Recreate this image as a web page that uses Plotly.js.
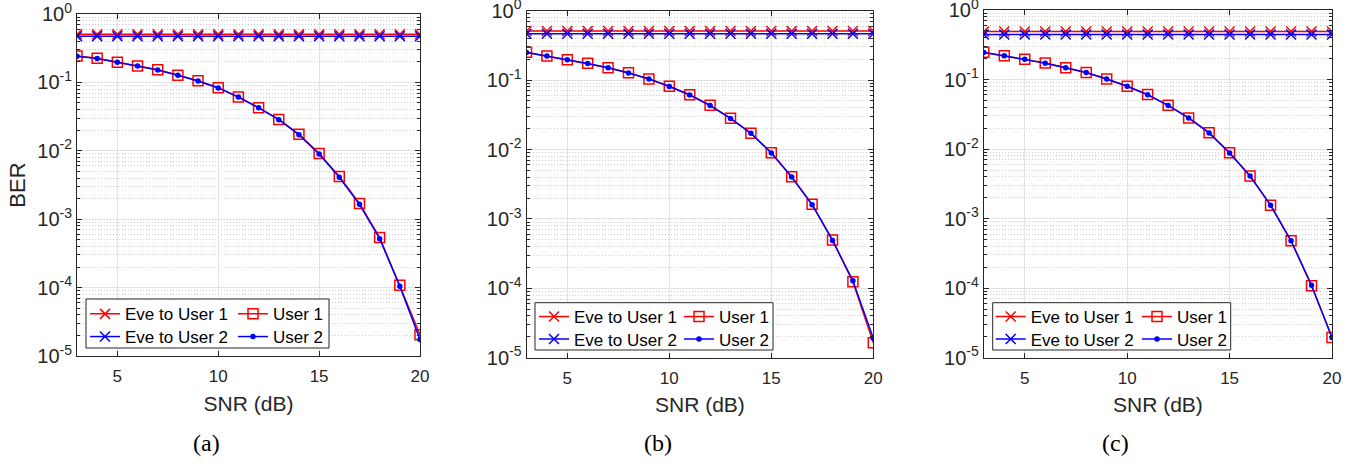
<!DOCTYPE html>
<html>
<head>
<meta charset="utf-8">
<script src="https://cdn.plot.ly/plotly-3.0.1.min.js"></script>
<style>html,body{margin:0;padding:0;background:#fff;}#chart{width:1362px;height:464px;}</style>
</head>
<body>
<div id="chart"></div>
<script>
// ---------- data ----------
const snr = [3, 4, 5, 6, 7, 8, 9, 10, 11, 12, 13, 14, 15, 16, 17, 18, 19, 20];

const seriesNames = ["Eve to User 1", "User 1", "Eve to User 2", "User 2"];
const panelLabels = ["(a)", "(b)", "(c)"];
const xTickVals = [5, 10, 15, 20];
const yTickVals = [1e-5, 1e-4, 1e-3, 1e-2, 1e-1, 1];
const yTickText = ["10<sup>-5</sup>", "10<sup>-4</sup>", "10<sup>-3</sup>", "10<sup>-2</sup>", "10<sup>-1</sup>", "10<sup>0</sup>"];

// panel (a)
const a_eve1  = [0.505, 0.505, 0.505, 0.505, 0.505, 0.505, 0.505, 0.505, 0.505, 0.505, 0.505, 0.505, 0.505, 0.505, 0.505, 0.505, 0.505, 0.505];
const a_user1 = [0.243, 0.225, 0.197, 0.174, 0.153, 0.127, 0.106, 0.0837, 0.0612, 0.0427, 0.0288, 0.0174, 0.0091, 0.0042, 0.0017, 0.00054, 0.000108, 2.05e-5];
const a_eve2  = [0.472, 0.472, 0.472, 0.472, 0.472, 0.472, 0.472, 0.472, 0.472, 0.472, 0.472, 0.472, 0.472, 0.472, 0.472, 0.472, 0.472, 0.472];
const a_user2 = [0.242, 0.224, 0.197, 0.173, 0.152, 0.127, 0.105, 0.083, 0.061, 0.0425, 0.0285, 0.0172, 0.0090, 0.0041, 0.00165, 0.00052, 0.000105, 1.75e-5];

// panel (b)
const b_eve1  = [0.51, 0.51, 0.51, 0.51, 0.51, 0.51, 0.51, 0.51, 0.51, 0.51, 0.51, 0.51, 0.51, 0.51, 0.51, 0.51, 0.51, 0.51];
const b_user1 = [0.251, 0.222, 0.197, 0.175, 0.151, 0.128, 0.104, 0.0814, 0.0616, 0.0434, 0.0282, 0.0172, 0.0090, 0.00405, 0.00162, 0.000497, 0.000124, 1.64e-5];
const b_eve2  = [0.466, 0.466, 0.466, 0.466, 0.466, 0.466, 0.466, 0.466, 0.466, 0.466, 0.466, 0.466, 0.466, 0.466, 0.466, 0.466, 0.466, 0.466];
const b_user2 = [0.250, 0.222, 0.197, 0.174, 0.151, 0.127, 0.104, 0.081, 0.061, 0.043, 0.028, 0.0171, 0.0089, 0.0040, 0.0016, 0.00049, 0.000128, 1.9e-5];

// panel (c)
const c_eve1  = [0.49, 0.49, 0.49, 0.49, 0.49, 0.49, 0.49, 0.49, 0.49, 0.49, 0.49, 0.49, 0.49, 0.49, 0.49, 0.49, 0.49, 0.49];
const c_user1 = [0.246, 0.220, 0.195, 0.173, 0.148, 0.126, 0.102, 0.080, 0.0607, 0.0426, 0.028, 0.0172, 0.00885, 0.00409, 0.00156, 0.00048, 0.000108, 1.95e-5];
const c_eve2  = [0.445, 0.445, 0.445, 0.445, 0.445, 0.445, 0.445, 0.445, 0.445, 0.445, 0.445, 0.445, 0.445, 0.445, 0.445, 0.445, 0.445, 0.445];
const c_user2 = [0.245, 0.220, 0.195, 0.172, 0.148, 0.126, 0.102, 0.080, 0.0605, 0.0425, 0.028, 0.0171, 0.0088, 0.0041, 0.00156, 0.00048, 0.00011, 1.95e-5];

// ---------- layout helpers ----------
const W = 1362, H = 464;
const px = v => v / W;
const py = v => 1 - v / H;

const panels = [
  {data: [a_eve1, a_user1, a_eve2, a_user2], x0: 77, x1: 420, y0: 14, y1: 356,
   box: [86, 299, 329, 348], legX: [85, 233], legY: [313.3, 336], ytitle: "BER"},
  {data: [b_eve1, b_user1, b_eve2, b_user2], x0: 526.5, x1: 873.3, y0: 10.7, y1: 357.7,
   box: [535, 302.7, 773, 350], legX: [534, 679], legY: [316, 338.5], ytitle: ""},
  {data: [c_eve1, c_user1, c_eve2, c_user2], x0: 983.8, x1: 1332, y0: 10, y1: 357.7,
   box: [992.7, 302.7, 1230.7, 350], legX: [990.7, 1137], legY: [316, 338.5], ytitle: ""}
];

const RED = "#ff0000", BLUE = "#0000ff", AX = "#262626";
const FONT = "Liberation Sans, Arial, sans-serif";
const styles = [
  {color: RED,  symbol: "x-thin-open", size: 10, lw: 1.5},
  {color: RED,  symbol: "square-open", size: 10, lw: 1.5},
  {color: BLUE, symbol: "x-thin-open", size: 10, lw: 1.5},
  {color: BLUE, symbol: "circle", size: 4, lw: 1.5}
];

const minorVals = [];
for (let e = -5; e < 0; e++) for (let m = 2; m <= 9; m++) minorVals.push(m * Math.pow(10, e));

const traces = [];
const layout = {
  width: W, height: H,
  margin: {l: 0, r: 0, t: 0, b: 0},
  paper_bgcolor: "#fff", plot_bgcolor: "#fff",
  showlegend: true,
  shapes: [], annotations: [],
  font: {family: FONT, color: AX}
};

const legCommon = {
  xanchor: "left", yanchor: "top", bgcolor: "rgba(0,0,0,0)", borderwidth: 0,
  font: {family: FONT, size: 17, color: "#000"}, itemwidth: 30, tracegroupgap: 0,
  orientation: "v", itemclick: false, itemdoubleclick: false
};

panels.forEach((p, i) => {
  const xa = i === 0 ? "x" : "x" + (i + 1);
  const ya = i === 0 ? "y" : "y" + (i + 1);
  p.data.forEach((vals, k) => {
    const s = styles[k];
    const n = i * 4 + k + 1;
    const lg = n === 1 ? "legend" : "legend" + n;
    const col = k % 2;            // 0: Eve column, 1: User column
    const row = Math.floor(k / 2);
    layout[lg] = Object.assign({}, legCommon, {x: px(p.legX[col]), y: py(p.legY[row] - 17)});
    traces.push({
      x: snr, y: vals, type: "scatter", mode: "lines+markers",
      name: seriesNames[k], xaxis: xa, yaxis: ya, legend: lg,
      line: {color: s.color, width: s.lw},
      marker: {symbol: s.symbol, size: s.size, color: s.color, line: {color: s.color, width: 1.5}},
      hoverinfo: "x+y+name"
    });
  });

  layout["xaxis" + (i === 0 ? "" : i + 1)] = {
    domain: [px(p.x0), px(p.x1)], anchor: ya, range: [3, 20],
    tickmode: "array", tickvals: xTickVals, ticks: "inside", ticklen: 5, tickcolor: AX,
    showline: true, linecolor: AX, linewidth: 1, mirror: "allticks",
    showgrid: true, gridcolor: "#e2e2e2", gridwidth: 1, zeroline: false,
    tickfont: {family: FONT, size: 17, color: AX}, ticklabelstandoff: 5,
    title: {text: "SNR (dB)", font: {family: FONT, size: 21, color: AX}, standoff: 10},
    automargin: false, fixedrange: true
  };
  layout["yaxis" + (i === 0 ? "" : i + 1)] = {
    domain: [py(p.y1), py(p.y0)], anchor: xa, type: "log", range: [-5, 0],
    tickmode: "array", tickvals: yTickVals, ticktext: yTickText,
    ticks: "inside", ticklen: 5, tickcolor: AX, ticklabeloverflow: "allow",
    showline: true, linecolor: AX, linewidth: 1, mirror: "allticks",
    showgrid: true, gridcolor: "#e2e2e2", gridwidth: 1, zeroline: false,
    tickfont: {family: FONT, size: 20, color: AX},
    minor: {tickmode: "array", tickvals: minorVals, ticks: "inside", ticklen: 3, tickcolor: AX,
            showgrid: true, gridcolor: "#cdcdcd", griddash: "1px,2px", gridwidth: 1},
    title: {text: p.ytitle, font: {family: FONT, size: 22, color: AX}, standoff: 5},
    automargin: false, fixedrange: true
  };

  layout.shapes.push({
    type: "rect", xref: "paper", yref: "paper", layer: "above",
    x0: px(p.box[0]), x1: px(p.box[2]), y0: py(p.box[3]), y1: py(p.box[1]),
    fillcolor: "#ffffff", line: {color: AX, width: 1}
  });

  layout.annotations.push({
    text: panelLabels[i], xref: "paper", yref: "paper",
    x: px((p.x0 + p.x1) / 2 - 42), y: py(443), xanchor: "center", yanchor: "middle",
    showarrow: false, font: {family: "Liberation Serif, Times New Roman, serif", size: 24, color: "#000"}
  });
});

Plotly.newPlot("chart", traces, layout, {displayModeBar: false, staticPlot: false});
</script>
</body>
</html>
